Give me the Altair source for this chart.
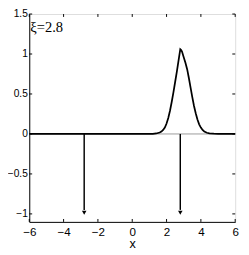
import altair as alt
import pandas as pd

# curve samples
xs = [-6.0, -4.0, -2.0, 0.0, 1.0, 1.2, 1.4, 1.6, 1.7, 1.8, 1.9, 2.0, 2.1, 2.2, 2.3, 2.4, 2.5, 2.6, 2.7, 2.8,
      2.85, 2.9, 3.0, 3.1, 3.2, 3.3, 3.4, 3.5, 3.6, 3.7, 3.8, 3.9, 4.0, 4.1, 4.2, 4.35, 4.5, 4.75, 5.0, 6.0]
ys = [0.0, 0.0, 0.0, 0.0, 0.0, 0.002, 0.006, 0.018, 0.03, 0.05, 0.08, 0.13, 0.2, 0.29, 0.4, 0.52, 0.65, 0.78, 0.92, 1.06,
      1.05, 1.03, 0.96, 0.89, 0.81, 0.70, 0.58, 0.46, 0.35, 0.26, 0.18, 0.12, 0.08, 0.05, 0.03, 0.015, 0.008, 0.003, 0.001, 0.0]

arrow_x = [-2.8, 2.8]
arrow_top = [0.0, 0.0]
arrow_bottom = [-0.95, -0.95]
arrow_tip = [-0.985, -0.985]

x_ticks = [-6, -4, -2, 0, 2, 4, 6]
y_ticks = [-1, -0.5, 0, 0.5, 1, 1.5]
label_text = "ξ=2.8"

W, H = 213, 215
xscale = alt.Scale(domain=[-6, 6], nice=False, zero=False)
yscale = alt.Scale(domain=[-1.1, 1.5], nice=False, zero=False)

curve_df = pd.DataFrame({"x": xs, "y": ys})
arrow_df = pd.DataFrame({"x": arrow_x, "y0": arrow_top, "y1": arrow_bottom, "tip": arrow_tip})
xt_df = pd.DataFrame({"x": x_ticks})
yt_df = pd.DataFrame({"y": y_ticks})

lbl_font = "Liberation Sans"
lbl_expr = "replace(format(datum.value, '~g'), '-', '\u2212')"

ax_x = alt.Axis(values=x_ticks, ticks=False, labelFont=lbl_font, labelFontSize=12,
                labelColor="black", labelPadding=5, labelOverlap=False, labelFlush=False,
                labelBound=False, titleFont=lbl_font,
                titleFontSize=13, titleFontWeight="normal", titleColor="black",
                titlePadding=1, domainColor="black", grid=False,
                labelExpr=lbl_expr)
ax_y = alt.Axis(values=y_ticks, ticks=False, labelFont=lbl_font, labelFontSize=10.5,
                labelColor="black", labelPadding=2, labelOverlap=False, labelFlush=False,
                domainColor="black", grid=False,
                labelExpr=lbl_expr)


def X(field):
    return alt.X(field, type="quantitative", scale=xscale, axis=ax_x, title="x")


def Y(field):
    return alt.Y(field, type="quantitative", scale=yscale, axis=ax_y, title=None)


zero = alt.Chart(pd.DataFrame({"x": [-6, 6], "y": [0, 0]})).mark_line(
    color="#999999", strokeWidth=1).encode(x=X("x"), y=Y("y"))

curve = alt.Chart(curve_df).mark_line(color="black", strokeWidth=1.8).encode(
    x=X("x"), y=Y("y"))

arrows = alt.Chart(arrow_df).mark_rule(color="black", strokeWidth=1.5).encode(
    x=X("x"), y=Y("y0"), y2="y1:Q")

heads = alt.Chart(arrow_df).mark_point(shape="triangle-down", filled=True, color="black",
                                       size=22, opacity=1).encode(
    x=X("x"), y=Y("tip"))

tick_style = dict(color="black", strokeWidth=1)
bt = alt.Chart(xt_df).mark_rule(**tick_style).encode(
    x=X("x"), y=alt.value(H), y2=alt.value(H - 3))
tt = alt.Chart(xt_df).mark_rule(**tick_style).encode(
    x=X("x"), y=alt.value(0), y2=alt.value(3))
lt = alt.Chart(yt_df).mark_rule(**tick_style).encode(
    y=Y("y"), x=alt.value(0), x2=alt.value(3))
rt = alt.Chart(yt_df).mark_rule(**tick_style).encode(
    y=Y("y"), x=alt.value(W), x2=alt.value(W - 3))

txt = alt.Chart(pd.DataFrame({"label": [label_text]})).mark_text(
    font="Liberation Serif", fontSize=15, color="black", align="left", baseline="top").encode(
    x=alt.value(1), y=alt.value(7), text="label:N")

chart = alt.layer(zero, curve, arrows, heads, bt, tt, lt, rt, txt).properties(
    width=W, height=H,
    autosize=alt.AutoSizeParams(type="none"),
    padding={"left": 22, "top": 2, "right": 6, "bottom": 30},
).configure_axis(labelOverlap=False, labelFlush=False).configure_view(
    stroke="black", strokeWidth=1).configure(background="white")

chart.save("out.html", embed_options={"renderer": "svg", "actions": False})
